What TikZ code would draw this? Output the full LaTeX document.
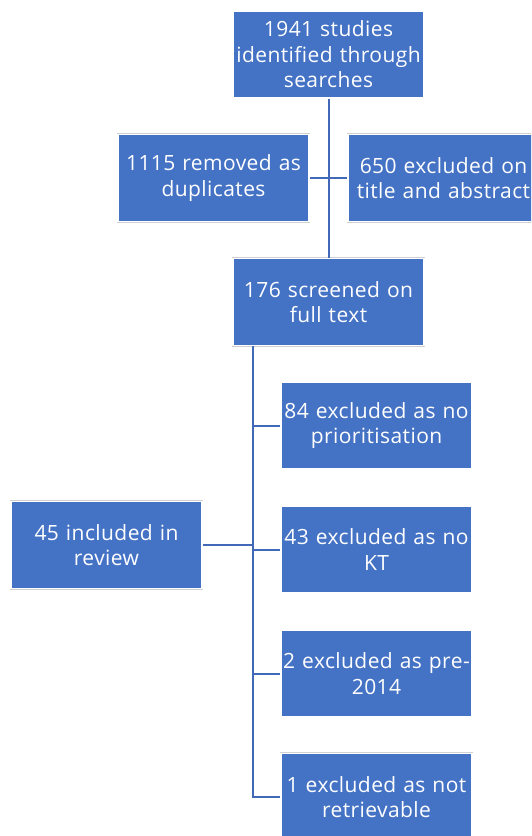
\documentclass[tikz,border=0pt]{standalone}
\usepackage{fontspec}
\setmainfont[Ligatures=NoCommon,LetterSpace=2]{Open Sans}
\definecolor{boxblue}{HTML}{4472C4}
\definecolor{lineblue}{HTML}{4169B8}
\tikzset{
	flowbox/.style={fill=boxblue, draw=white, line width=1.4pt,
		preaction={draw=black!18, line width=2.6pt},
		minimum width=191pt, minimum height=87pt, text width=189pt,
		inner sep=0pt, align=center, text=white,
		font=\fontsize{21}{25.5}\selectfont},
	link/.style={draw=lineblue, line width=2pt}
}
\begin{document}
\begin{tikzpicture}[x=1pt,y=-1pt]
		\clip (0,0) rectangle (531,836);
		\useasboundingbox (0,0) rectangle (531,836);
	
		\node[flowbox] (search) at (328.5,54.5) {1941 studies\\identified through\\searches};
		\node[flowbox] (dup) at (213.5,178) {1115 removed as\\duplicates};
		\node[flowbox] (title) at (443.5,178) {650 excluded on\\title and abstract};
		\node[flowbox] (screen) at (328.5,302) {176 screened on\\full text};
	
		\node[flowbox] (prio) at (376.5,425.5) {84 excluded as no\\prioritisation};
		\node[flowbox] (kt) at (376.5,549.5) {43 excluded as no\\KT};
		\node[flowbox] (pre) at (376.5,673.5) {2 excluded as pre-\\2014};
		\node[flowbox] (retr) at (376.5,797) {1 excluded as not\\retrievable};
	
		\node[flowbox] (incl) at (106.5,545) {45 included in\\review};
	
		\draw[link] (search) -- (screen);
		\draw[link] (dup) -- (title);
	
		\coordinate (spine) at (253,346);
		\draw[link] (spine) |- (retr.west);
		\foreach \n in {prio,kt,pre}
			\draw[link] (spine |- \n) -- (\n.west);
		\draw[link] (incl.east) -- (incl.east -| spine);
	\end{tikzpicture}
\end{document}
